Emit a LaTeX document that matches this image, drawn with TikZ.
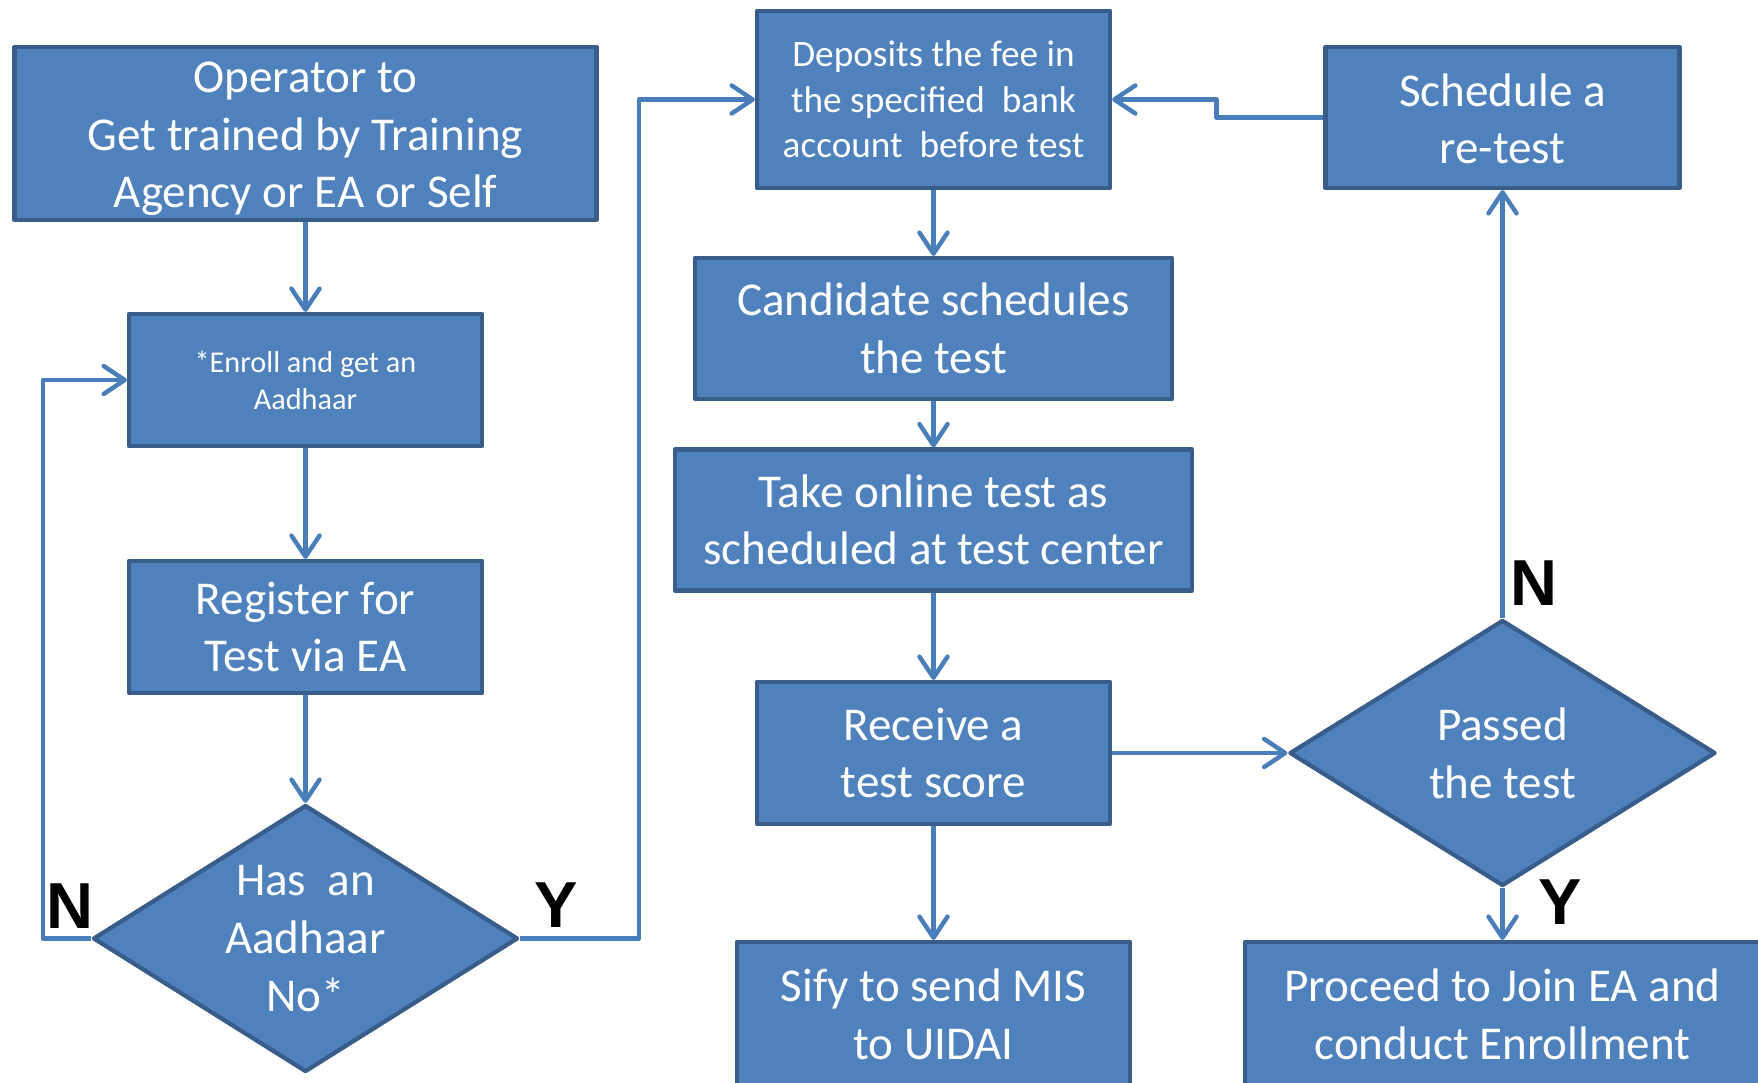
\documentclass[tikz,border=0pt]{standalone}
\usepackage{fontspec}
\setmainfont{Carlito}
\newfontfamily\ynfont{Liberation Sans}
\usetikzlibrary{shapes.geometric,arrows.meta}
\definecolor{boxfill}{HTML}{4F81BD}
\definecolor{boxline}{HTML}{385D8A}
\definecolor{flowline}{HTML}{4A7EBB}
\begin{document}
\begin{tikzpicture}[x=1mm,y=-1mm,line join=round,
		>={Straight Barb[length=6pt,width=8pt,round]},
		box/.style={draw=boxline,fill=boxfill,line width=1.2pt,text=white,align=center,inner sep=0pt,
			font=\fontsize{13.4}{16.4}\selectfont},
		decision/.style={box,diamond,shape aspect=1.6},
		flow/.style={->,draw=flowline,line width=1.25pt},
		yn/.style={font=\ynfont\bfseries\fontsize{18.5}{20}\selectfont,inner sep=0pt}]
	\useasboundingbox (0,0) rectangle (175.8,108.3);
	% left column
	\node[box,minimum width=58.2mm,minimum height=17.3mm] (operator) at (30.55,13.34) {\rule{0pt}{4.2mm}Operator to\\Get trained by Training\\ Agency or EA or Self};
	\node[box,minimum width=35.3mm,minimum height=13.2mm,font=\fontsize{8.6}{10.5}\selectfont] (enroll) at (30.55,38) {*Enroll and get an\\Aadhaar};
	\node[box,minimum width=35.3mm,minimum height=13.2mm] (register) at (30.55,62.7) {Register for\\Test via EA};
	\node[decision,minimum width=42.5mm,minimum height=26.7mm] (hasno) at (30.55,93.85) {Has~ an\\Aadhaar\\No*};
	% middle column
	\node[box,minimum width=35.3mm,minimum height=17.7mm,font=\fontsize{10.6}{12.9}\selectfont] (deposit) at (93.35,9.95) {Deposits the fee in\\the specified~ bank\\account~ before test};
	\node[box,minimum width=47.7mm,minimum height=14.1mm] (candidate) at (93.35,32.85) {Candidate schedules\\the test};
	\node[box,minimum width=51.7mm,minimum height=14.1mm] (online) at (93.35,52) {Take online test as\\scheduled at test center};
	\node[box,minimum width=35.3mm,minimum height=14.2mm] (score) at (93.35,75.3) {Receive a\\test score};
	\node[box,minimum width=39.3mm,minimum height=14.4mm] (sify) at (93.35,101.4) {Sify to send MIS\\to UIDAI};
	% right column
	\node[box,minimum width=35.4mm,minimum height=14.1mm] (retest) at (150.25,11.75) {\rule{0pt}{3.5mm}Schedule a\\re-test};
	\node[decision,minimum width=42.6mm,minimum height=26.6mm] (passed) at (150.25,75.3) {Passed\\the test};
	\node[box,minimum width=51.5mm,minimum height=14.4mm] (proceed) at (150.25,101.4) {Proceed to Join EA and\\conduct Enrollment};
	% connectors
	\draw[flow] (operator) -- (enroll);
	\draw[flow] (enroll) -- (register);
	\draw[flow] (register) -- (hasno);
	\draw[flow] (hasno.west) -- ++(-4.8,0) |- (enroll.west);
	\draw[flow] (hasno.east) -- ++(11.9,0) |- (deposit.west);
	\draw[flow] (deposit) -- (candidate);
	\draw[flow] (candidate) -- (online);
	\draw[flow] (online) -- (score);
	\draw[flow] (score) -- (sify);
	\draw[flow] (score) -- (passed);
	\draw[flow] (passed) -- (retest);
	\draw[flow] (passed) -- (proceed);
	\draw[flow] (retest.west) -- ++(-10.7,0) |- (deposit.east);
	% answers
	\node[yn] (leftno) at (6.95,90.6) {N};
	\node[yn] (leftyes) at (55.6,90.5) {Y};
	\node[yn] (rightno) at (153.4,58.3) {N};
	\node[yn] (rightyes) at (156,90.25) {Y};
\end{tikzpicture}
\end{document}
